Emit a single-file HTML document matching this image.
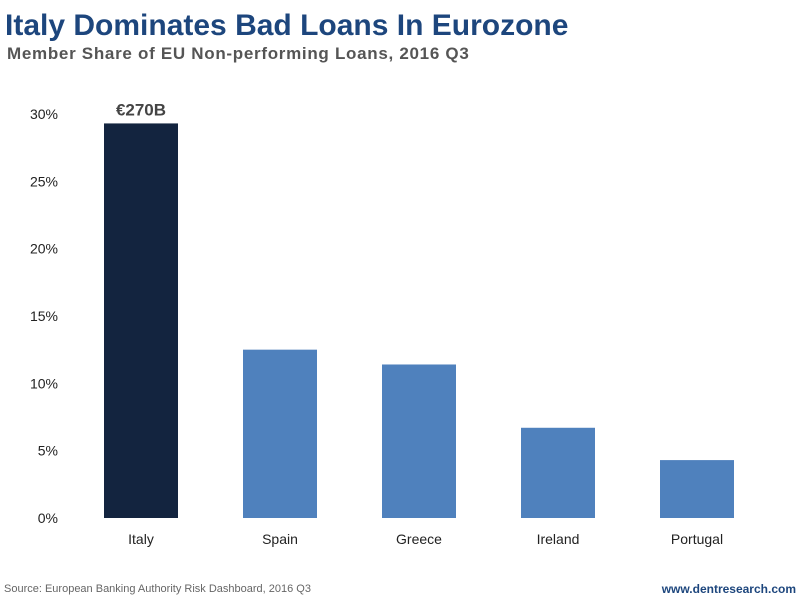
<!DOCTYPE html>
<html><head><meta charset="utf-8"><style>
body{margin:0;width:800px;height:600px;background:#fff;overflow:hidden;font-family:"Liberation Sans",sans-serif}
</style></head><body>
<svg width="800" height="600">
<text x="5" y="35" font-size="30" font-weight="bold" fill="#1d467d">Italy Dominates Bad Loans In Eurozone</text>
<text x="7" y="59" font-size="17" font-weight="bold" letter-spacing="0.7" fill="#555">Member Share of EU Non-performing Loans, 2016 Q3</text>
<g id="yticks"></g><g id="bars"></g><g id="xlabels"></g>
<text x="4" y="592" font-size="11" fill="#666">Source: European Banking Authority Risk Dashboard, 2016 Q3</text>
<text x="796" y="593" font-size="12" font-weight="bold" fill="#1d467d" text-anchor="end">www.dentresearch.com</text>
</svg>
<script>
const categories=["Italy","Spain","Greece","Ireland","Portugal"];
const values=[29.3,12.5,11.4,6.7,4.3];
const tickValues=[0,5,10,15,20,25,30];
const tickLabels=["0%","5%","10%","15%","20%","25%","30%"];
const annotations=["€270B","","","",""];
const ns="http://www.w3.org/2000/svg";
const y=v=>518-v*(404/30);
const x=i=>141+i*139;
const bw=74;
function mk(t,a,p){const e=document.createElementNS(ns,t);for(const k in a)e.setAttribute(k,a[k]);p.appendChild(e);return e;}
const yt=document.getElementById('yticks');
tickValues.forEach((v,i)=>{const t=mk('text',{x:58,y:y(v)+5,'font-size':14,fill:'#222','text-anchor':'end'},yt);t.textContent=tickLabels[i];

});
const bg=document.getElementById('bars'),xl=document.getElementById('xlabels');
categories.forEach((c,i)=>{
const r=mk('rect',{x:x(i)-bw/2,y:y(values[i]),width:bw,height:y(0)-y(values[i]),fill:i===0?'#13243f':'#4f81bd'},bg);


const t=mk('text',{x:x(i),y:544,'font-size':14,fill:'#222','text-anchor':'middle'},xl);t.textContent=c;


if(annotations[i]){const a=mk('text',{x:x(i),y:y(values[i])-8,'font-size':17,'font-weight':'bold',fill:'#444','text-anchor':'middle'},bg);a.textContent=annotations[i];

}
});
</script>
</body></html>
